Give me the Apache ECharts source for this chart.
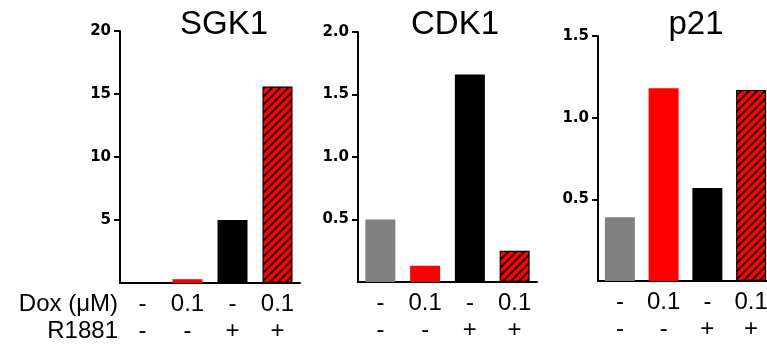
<!DOCTYPE html>
<html>
<head>
<meta charset="utf-8">
<script src="https://cdn.jsdelivr.net/npm/echarts@6/dist/echarts.min.js"></script>
<style>
html,body{margin:0;padding:0;background:#fff;overflow:hidden;width:767px;height:346px;}
#chart{width:780px;height:346px;}
</style>
</head>
<body>
<div id="chart"></div>
<script>
// ---- data ----
const categories = ['c1', 'c2', 'c3', 'c4'];
const doxLabels = ['-', '0.1', '-', '0.1'];
const r1881Labels = ['-', '-', '+', '+'];
const rowNames = ['Dox (μM)', 'R1881'];
const panelTitles = ['SGK1', 'CDK1', 'p21'];
const sgk1Values = [0, 0.3, 5.0, 15.6];
const cdk1Values = [0.5, 0.13, 1.66, 0.25];
const p21Values = [0.39, 1.18, 0.57, 1.17];
const yMax = [20, 2.0, 1.5];
const yInterval = [5, 0.5, 0.5];
const yDecimals = [0, 1, 1];

// ---- hatch pattern ----
function makeHatch() {
  const s = 8;
  const c = document.createElement('canvas');
  c.width = s; c.height = s;
  const g = c.getContext('2d');
  g.fillStyle = '#ff0000';
  g.fillRect(0, 0, s, s);
  g.strokeStyle = '#000';
  g.lineWidth = 1.7;
  g.beginPath();
  g.moveTo(-1, s + 1); g.lineTo(s + 1, -1);
  g.moveTo(-1, 1); g.lineTo(1, -1);
  g.moveTo(s - 1, s + 1); g.lineTo(s + 1, s - 1);
  g.stroke();
  return c;
}
const hatch = { image: makeHatch(), repeat: 'repeat' };

const barStyles = [
  { color: '#808080' },
  { color: '#ff0000' },
  { color: '#000000' },
  { color: hatch, borderColor: '#000', borderWidth: 1.2 }
];

const allValues = [sgk1Values, cdk1Values, p21Values];
const grids = [
  { left: 120, top: 31, width: 180, height: 252 },
  { left: 358, top: 32, width: 179, height: 250 },
  { left: 598, top: 36, width: 175, height: 245 }
];
const titleCenters = [219, 450, 691];

const chart = echarts.init(document.getElementById('chart'), null, { renderer: 'canvas' });

const option = {
  backgroundColor: '#fff',
  animation: false,
  title: panelTitles.map((t, i) => ({
    text: t,
    left: titleCenters[i],
    top: 3,
    textAlign: 'center',
    textStyle: { fontFamily: 'Liberation Sans', fontSize: 33, fontWeight: 'normal', color: '#000' }
  })),
  grid: grids,
  xAxis: grids.map((g, i) => ({
    type: 'category',
    gridIndex: i,
    data: categories,
    axisLine: { lineStyle: { color: '#000', width: 2 } },
    axisTick: { alignWithLabel: true, length: 8, lineStyle: { color: '#000', width: 2 } },
    axisLabel: {
      interval: 0,
      margin: 8,
      formatter: (v, idx) => '{a|' + doxLabels[idx] + '}\n{a|' + r1881Labels[idx] + '}',
      rich: { a: { fontFamily: 'Liberation Sans', fontSize: 24, lineHeight: 27, color: '#000', align: 'center' } }
    }
  })),
  yAxis: grids.map((g, i) => ({
    type: 'value',
    gridIndex: i,
    min: 0,
    max: yMax[i],
    interval: yInterval[i],
    splitLine: { show: false },
    axisLine: { show: true, lineStyle: { color: '#000', width: 2 } },
    axisTick: { show: true, length: 6, lineStyle: { color: '#000', width: 2 } },
    axisLabel: {
      showMinLabel: false,
      margin: 9,
      fontFamily: 'DejaVu Sans',
      fontWeight: 'bold',
      fontSize: 15,
      color: '#000',
      formatter: v => v.toFixed(yDecimals[i])
    }
  })),
  graphic: rowNames.map((name, r) => ({
    type: 'text',
    x: 118,
    y: 292 + r * 27,
    style: {
      text: name,
      fontFamily: 'Liberation Sans',
      fontSize: 24,
      fill: '#000',
      textAlign: 'right',
      textVerticalAlign: 'top'
    }
  })),
  series: allValues.map((vals, i) => ({
    type: 'bar',
    xAxisIndex: i,
    yAxisIndex: i,
    barWidth: 30,
    data: vals.map((v, k) => ({ value: v, itemStyle: barStyles[k] }))
  }))
};
chart.setOption(option);
</script>
</body>
</html>
